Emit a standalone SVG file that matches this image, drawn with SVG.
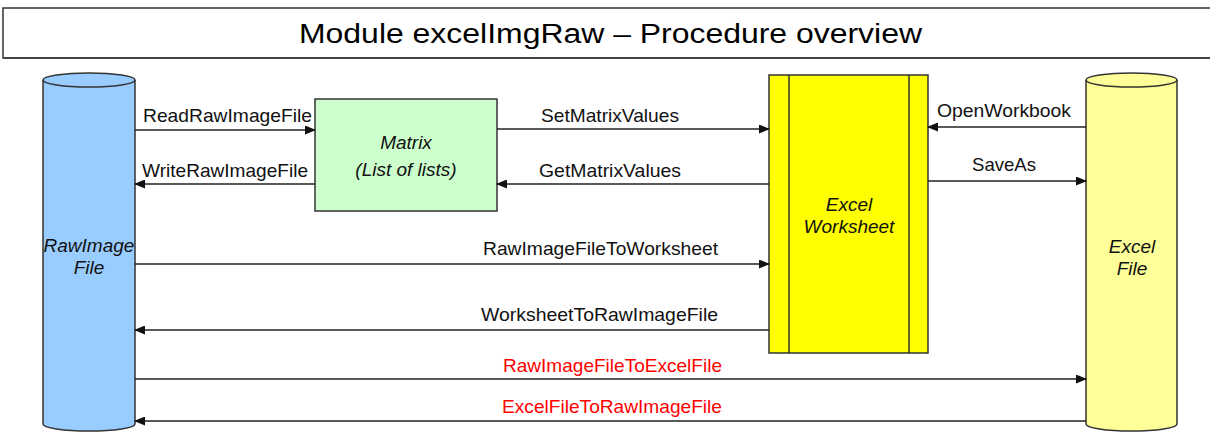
<svg xmlns="http://www.w3.org/2000/svg" width="1210" height="432" viewBox="0 0 1210 432">
<style>
.lbl{font-family:"Liberation Sans",Arial,sans-serif;font-size:19px;fill:#111}
.red{fill:#ff0000}
.it{font-family:"Liberation Sans",Arial,sans-serif;font-size:19px;font-style:italic;fill:#111;text-anchor:middle}
.con{stroke:#222;stroke-width:1.5;fill:none;marker-end:url(#ah)}
.shape{stroke:#333;stroke-width:1.5}
</style>
<defs>
<marker id="ah" markerUnits="userSpaceOnUse" markerWidth="11" markerHeight="9" refX="10" refY="4.5" orient="auto">
<path d="M0,0 L11,4.5 L0,9 z" fill="#111"/>
</marker>
</defs>
<rect width="1210" height="432" fill="#fff"/>
<g id="title">
<rect x="3" y="8" width="1225" height="50" fill="#fff" stroke="#333" stroke-width="1.5"/>
<line x1="3" y1="58" x2="1210" y2="58" stroke="#444" stroke-width="2"/>
<text x="299" y="43" font-family="Liberation Sans, Arial, sans-serif" font-size="27" fill="#000" textLength="623" lengthAdjust="spacingAndGlyphs">Module excelImgRaw – Procedure overview</text>
</g>
<g id="rawfile">
<path class="shape" d="M43,80 V424 A46,7 0 0 0 135,424 V80" fill="#99ccff"/>
<ellipse class="shape" cx="89" cy="80" rx="46" ry="7" fill="#99ccff"/>
<text class="it" x="89" y="252">RawImage</text>
<text class="it" x="89" y="274">File</text>
</g>
<g id="matrix">
<rect class="shape" x="315" y="99" width="182" height="112" fill="#ccffcc"/>
<text class="it" x="406" y="149">Matrix</text>
<text class="it" x="406" y="176">(List of lists)</text>
</g>
<g id="worksheet">
<rect class="shape" x="769" y="75" width="159" height="278" fill="#ffff00"/>
<line class="shape" x1="789" y1="75" x2="789" y2="353"/>
<line class="shape" x1="909" y1="75" x2="909" y2="353"/>
<text class="it" x="849" y="211">Excel</text>
<text class="it" x="849" y="233">Worksheet</text>
</g>
<g id="excelfile">
<path class="shape" d="M1086,80 V424 A45.5,7 0 0 0 1177,424 V80" fill="#ffff99"/>
<ellipse class="shape" cx="1131.5" cy="80" rx="45.5" ry="7" fill="#ffff99"/>
<text class="it" x="1132" y="253">Excel</text>
<text class="it" x="1132" y="275">File</text>
</g>
<g id="connectors">
<path class="con" d="M135,130 H315"/>
<path class="con" d="M315,184 H135"/>
<path class="con" d="M497,129 H769"/>
<path class="con" d="M769,184 H497"/>
<path class="con" d="M1086,127 H928"/>
<path class="con" d="M928,181 H1086"/>
<path class="con" d="M135,264 H769"/>
<path class="con" d="M769,330 H135"/>
<path class="con" d="M135,379 H1086"/>
<path class="con" d="M1086,421 H135"/>
<text class="lbl" x="143" y="122" textLength="169" lengthAdjust="spacingAndGlyphs">ReadRawImageFile</text>
<text class="lbl" x="142" y="177" textLength="166" lengthAdjust="spacingAndGlyphs">WriteRawImageFile</text>
<text class="lbl" x="541" y="122" textLength="138" lengthAdjust="spacingAndGlyphs">SetMatrixValues</text>
<text class="lbl" x="539" y="177" textLength="142" lengthAdjust="spacingAndGlyphs">GetMatrixValues</text>
<text class="lbl" x="937" y="117" textLength="134" lengthAdjust="spacingAndGlyphs">OpenWorkbook</text>
<text class="lbl" x="972" y="171" textLength="64" lengthAdjust="spacingAndGlyphs">SaveAs</text>
<text class="lbl" x="483" y="255" textLength="235" lengthAdjust="spacingAndGlyphs">RawImageFileToWorksheet</text>
<text class="lbl" x="481" y="321" textLength="237" lengthAdjust="spacingAndGlyphs">WorksheetToRawImageFile</text>
<text class="lbl red" x="503" y="372" textLength="219" lengthAdjust="spacingAndGlyphs">RawImageFileToExcelFile</text>
<text class="lbl red" x="502" y="413" textLength="220" lengthAdjust="spacingAndGlyphs">ExcelFileToRawImageFile</text>
</g>
</svg>
